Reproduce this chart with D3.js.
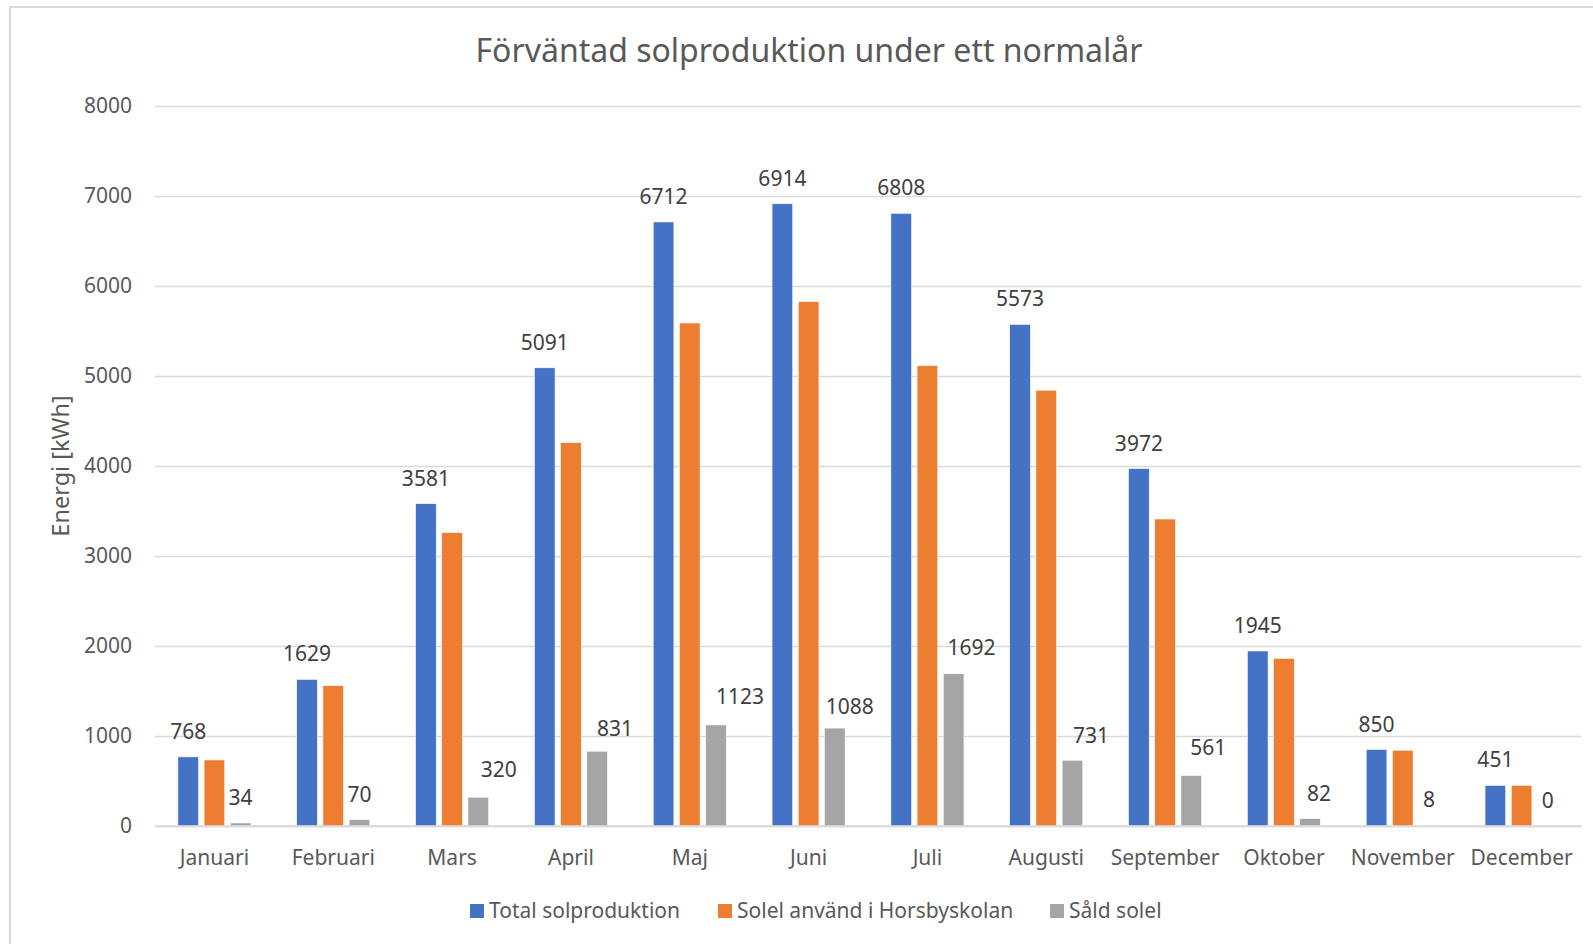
<!DOCTYPE html>
<html><head><meta charset="utf-8">
<script src="https://cdn.jsdelivr.net/npm/d3@7"></script>
<style>body{margin:0;background:#fff;overflow:hidden}svg{display:block;font-family:"Noto Sans",sans-serif}</style>
</head><body>
<svg id="c" width="1593" height="944"></svg>
<script>
const months = ["Januari","Februari","Mars","April","Maj","Juni","Juli","Augusti","September","Oktober","November","December"];
const seriesNames = ["Total solproduktion","Solel använd i Horsbyskolan","Såld solel"];
const total = [768,1629,3581,5091,6712,6914,6808,5573,3972,1945,850,451];
const used  = [734,1559,3261,4260,5589,5826,5116,4842,3411,1863,842,451];
const sold  = [34,70,320,831,1123,1088,1692,731,561,82,8,0];
const yTicks = [0,1000,2000,3000,4000,5000,6000,7000,8000];
const colors = ["#4472C4","#ED7D31","#A5A5A5"];
const title = "Förväntad solproduktion under ett normalår";
const yTitle = "Energi [kWh]";
// manual label nudges (px) for the "Såld solel" data labels, as placed in the original
const soldLabelDx = [0,0,20.5,18,24,15,18,18.5,17,9,0,0];
const soldLabelDy = [0,0,-2.4,2.6,-3,3.7,-0.7,0.7,-2.3,0,0,0];

const seriesVals = [total, used, sold];
const svg = d3.select("#c");
svg.append("rect").attr("x",10).attr("y",7).attr("width",1700).attr("height",1000)
  .attr("fill","#fff").attr("stroke","#d9d9d9").attr("stroke-width",2);

const L=155, R=1581, T=106, B=826;
const y = d3.scaleLinear().domain([0,8000]).range([B,T]);
const x0 = d3.scaleBand().domain(months).range([L,R]).paddingInner(0.385).paddingOuter(0.1925);
const x1 = d3.scaleBand().domain(d3.range(3)).range([0,x0.bandwidth()]).paddingInner(0.21);

// grid
const yAxis = d3.axisLeft(y).tickValues(yTicks).tickSize(-(R-L)).tickPadding(23).tickFormat(d3.format("d"));
const ga = svg.append("g").attr("transform",`translate(${L},0)`).call(yAxis);
ga.select(".domain").remove();
ga.selectAll(".tick line").attr("stroke","#d9d9d9").attr("stroke-width",1.3);
ga.selectAll(".tick text").attr("fill","#595959").style("font-size","21px").style("font-family","Noto Sans");

// x axis
const xAxis = d3.axisBottom(x0).tickSize(0).tickPadding(24);
const gx = svg.append("g").attr("transform",`translate(0,${B})`).call(xAxis);
gx.select(".domain").attr("stroke","#d9d9d9").attr("stroke-width",1.5);
gx.selectAll(".tick text").attr("fill","#595959").style("font-size","21px").style("font-family","Noto Sans");

// bars
months.forEach((m,i)=>{
  const g = svg.append("g").attr("transform",`translate(${x0(m)},0)`);
  seriesVals.forEach((vals,s)=>{
    const v = vals[i];
    g.append("rect").attr("x",x1(s)).attr("width",x1.bandwidth())
      .attr("y",y(v)).attr("height",B-y(v)).attr("fill",colors[s])
      .attr("stroke","#fff").attr("stroke-width",0.6);
    if (s!==1) {
      const dx = s===2 ? soldLabelDx[i] : 0;
      const dy = s===2 ? soldLabelDy[i] : 0;
      g.append("text").attr("x",x1(s)+x1.bandwidth()/2+dx).attr("y",y(v)-18+dy)
        .attr("text-anchor","middle").attr("fill","#404040").style("font-size","21px").text(v);
    }
  });
});
svg.append("line").attr("x1",L).attr("x2",R).attr("y1",B).attr("y2",B).attr("stroke","#d9d9d9").attr("stroke-width",1.5);

// title
svg.append("text").attr("x",809).attr("y",62).attr("text-anchor","middle").attr("fill","#595959")
  .style("font-size","32px").text(title);
// y title
svg.append("text").attr("transform",`translate(69,${(T+B)/2}) rotate(-90)`).attr("text-anchor","middle")
  .attr("fill","#595959").style("font-size","23.5px").text(yTitle);

// legend
const legX = [470, 718, 1050];
seriesNames.forEach((n,s)=>{
  svg.append("rect").attr("x",legX[s]).attr("y",904).attr("width",14).attr("height",14).attr("fill",colors[s]);
  svg.append("text").attr("x",legX[s]+19).attr("y",918).attr("fill","#595959").style("font-size","21px").text(n);
});
</script>
</body></html>
